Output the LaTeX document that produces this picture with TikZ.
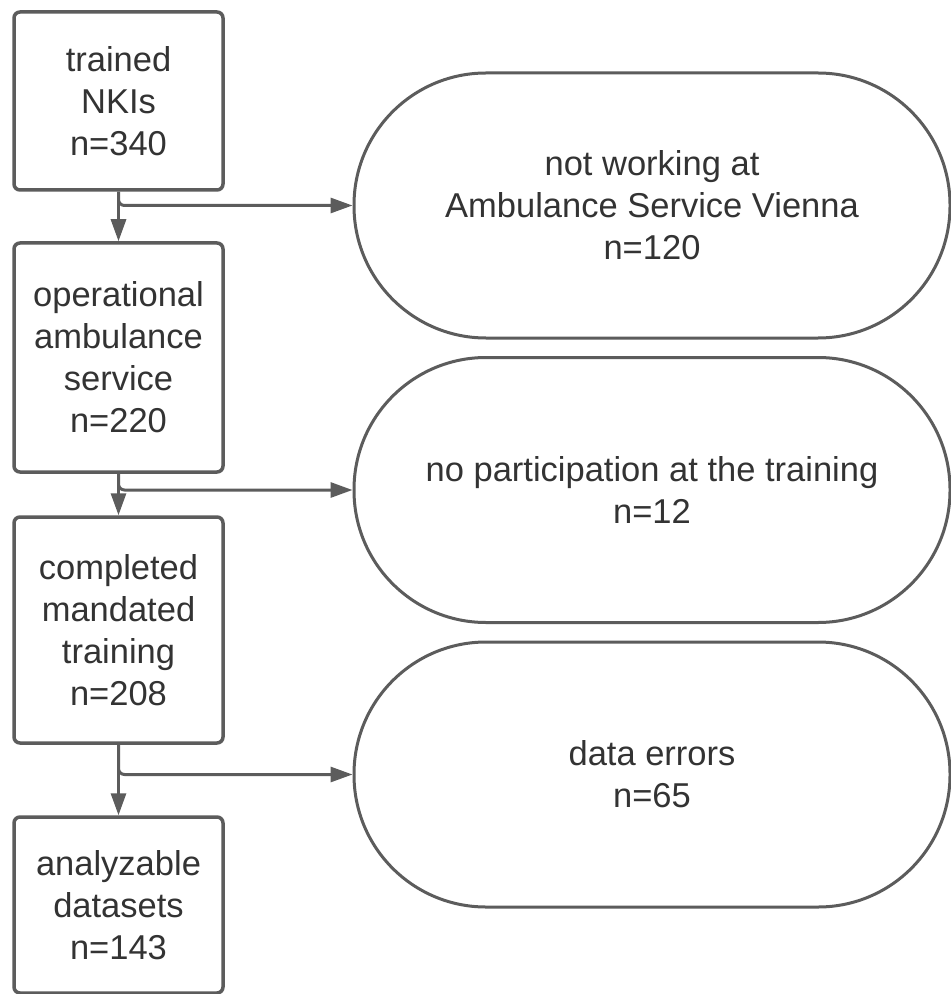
\documentclass[tikz,border=0pt]{standalone}
\usepackage{fontspec}
\setmainfont{Liberation Sans}
\usetikzlibrary{arrows.meta}
\definecolor{linegray}{HTML}{5C5C5C}
\definecolor{textgray}{HTML}{333333}

\begin{document}
\begin{tikzpicture}[x=0.5pt,y=-0.5pt,
 every node/.style={align=center,text=textgray,font=\fontsize{17.25pt}{21pt}\selectfont},
 stepbox/.style={draw=linegray,line width=1.75pt,rounded corners=3pt,minimum width=104.5pt,inner sep=0pt},
 excluded/.style={draw=linegray,line width=1.5pt,rounded corners=66pt,minimum width=298pt,minimum height=132.5pt,inner sep=0pt},
 flow/.style={draw=linegray,line width=1.5pt,-{Triangle[length=11pt,width=7.5pt]}}]
\path[use as bounding box,fill=white] (0,0) rectangle (950,994);
\node[stepbox,minimum height=89pt] (trained) at (118.5,101) {trained\\NKIs\\n=340};
\node[stepbox,minimum height=114.5pt] (operational) at (118.5,357.5) {operational\\ambulance\\service\\n=220};
\node[stepbox,minimum height=113pt] (completed) at (118.5,630) {completed\\mandated\\training\\n=208};
\node[stepbox,minimum height=88pt] (analyzable) at (118.5,905) {analyzable\\datasets\\n=143};
\node[excluded] (notworking) at (652,205.5) {not working at\\Ambulance Service Vienna\\n=120};
\node[excluded] (noparticip) at (652,490) {no participation at the training\\n=12};
\node[excluded] (dataerr) at (652,774.5) {data errors\\n=65};
\draw[flow] (trained) -- (operational);
\draw[flow] (operational) -- (completed);
\draw[flow] (completed) -- (analyzable);
\draw[flow,rounded corners=3pt] (trained.south) |- (notworking.west);
\draw[flow,rounded corners=3pt] (operational.south) |- (noparticip.west);
\draw[flow,rounded corners=3pt] (completed.south) |- (dataerr.west);
\end{tikzpicture}
\end{document}
